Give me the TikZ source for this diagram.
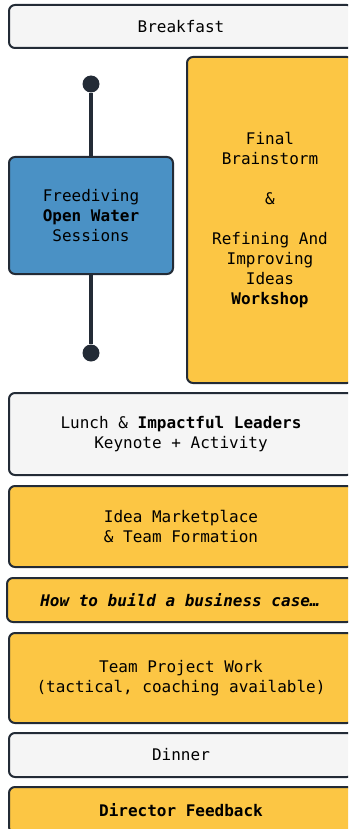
\documentclass[tikz,border=0pt]{standalone}
\usepackage{fontspec}
\setmainfont{DejaVu Sans Mono}
\usepackage{xcolor}
\definecolor{slotgray}{RGB}{245,245,245}
\definecolor{slotyellow}{RGB}{252,198,68}
\definecolor{slotblue}{RGB}{74,145,197}
\definecolor{slotline}{RGB}{35,43,54}
\usetikzlibrary{positioning}

\begin{document}
\begin{tikzpicture}[x=1pt, y=-1pt,
  slot/.style={draw=slotline, line width=2pt, rounded corners=6pt, align=center,
    inner sep=0pt, font=\fontsize{16}{20}\selectfont},
  light/.style={slot, fill=slotgray},
  yellow/.style={slot, fill=slotyellow},
  blue/.style={slot, fill=slotblue},
  pin/.style={circle, fill=slotline, inner sep=0pt, minimum size=17pt}]
\clip (0, 0) rectangle (348, 829);
\node [light, minimum width=344, minimum height=43] (breakfast) at (181, 26.5) {Breakfast};
\node [yellow, minimum width=166, minimum height=326] (brainstorm) at (270, 220)
  {Final\\Brainstorm\\[20pt]\&\\[20pt]Refining And\\Improving\\Ideas\\\textbf{Workshop}};
\node [blue, minimum width=164, minimum height=117] (dive) at (91, 215.5)
  {Freediving\\\textbf{Open Water}\\Sessions};
\node [pin] (topdot) at (91, 84) {};
\node [pin] (botdot) at (91, 353) {};
\draw [slotline, line width=4pt] (topdot) -- (dive);
\draw [slotline, line width=4pt] (dive) -- (botdot);
\node [light, minimum width=344, minimum height=82] (lunch) at (181, 434)
  {Lunch \& \textbf{Impactful Leaders}\\Keynote + Activity};
\node [yellow, minimum width=344, minimum height=81] (market) at (181, 526.5)
  {Idea Marketplace\\\& Team Formation};
\node [yellow, minimum width=346, minimum height=44] (bizcase) at (180, 600)
  {\textbf{\textit{How to build a business case…}}};
\node [yellow, minimum width=344, minimum height=90] (project) at (181, 678)
  {Team Project Work\\(tactical, coaching available)};
\node [light, minimum width=344, minimum height=44] (dinner) at (181, 755) {Dinner};
\node [yellow, minimum width=344, minimum height=46] (feedback) at (181, 810)
  {\textbf{Director Feedback}};
\end{tikzpicture}
\end{document}
